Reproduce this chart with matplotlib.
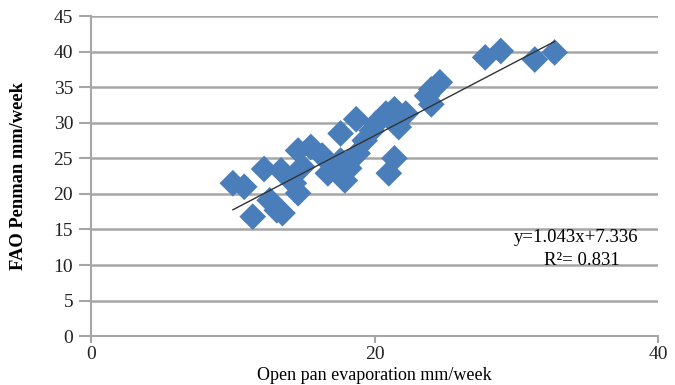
import numpy as np
import matplotlib
matplotlib.use('Agg')
import matplotlib.pyplot as plt

plt.rcParams['font.family'] = 'Liberation Serif'

# open pan evaporation (x) vs FAO Penman (y), mm/week
pan = [10.0, 10.8, 11.4, 12.2, 12.6, 13.1, 13.5, 13.4, 14.6, 14.9, 14.6, 14.3,
       15.5, 16.3, 16.7, 17.6, 17.6, 17.9, 18.2, 18.7, 18.8, 19.3, 19.8, 20.1,
       20.8, 21.0, 21.4, 21.4, 21.7, 22.2, 23.7, 24.0, 24.6, 24.0, 27.8, 28.9,
       31.3, 32.7]
fao = [21.5, 21.0, 16.8, 23.5, 19.1, 17.7, 17.3, 23.3, 26.1, 23.8, 20.1, 21.5,
       26.6, 25.4, 22.9, 24.7, 28.5, 21.9, 23.6, 30.5, 25.7, 27.5, 28.9, 29.9,
       31.3, 22.9, 25.0, 31.9, 29.4, 31.3, 33.8, 32.6, 35.7, 34.7, 39.2, 40.1,
       38.9, 39.9]
slope, intercept = 1.043, 7.336
r2 = 0.831

fig = plt.figure(figsize=(6.75, 3.85), dpi=100)
ax = fig.add_axes([0.135, 0.127, 0.840, 0.831])
fig.set_facecolor('white')

ax.scatter(pan, fao, marker='D', s=185, c='#4a7ebb', edgecolors='none', zorder=3)

xs = np.array([min(pan), max(pan)])
ax.plot(xs, slope * xs + intercept, color='#333333', lw=1.0, zorder=4)

ax.set_xlim(0, 40)
ax.set_ylim(0, 45)
ax.set_xticks([0, 20, 40])
ax.set_yticks(np.arange(0, 46, 5))
ax.yaxis.grid(True, color='#a6a6a6', lw=1.8)
ax.set_axisbelow(True)
for s in ['top', 'right']:
    ax.spines[s].set_visible(False)
for s in ['left', 'bottom']:
    ax.spines[s].set_color('#a6a6a6')
    ax.spines[s].set_linewidth(1.5)
ax.tick_params(axis='both', colors='#a6a6a6', labelcolor='#222222',
               labelsize=14, width=1.5)
ax.tick_params(axis='x', length=5, pad=2)
ax.tick_params(axis='y', length=9, pad=4)

ax.set_xlabel('Open pan evaporation mm/week', fontsize=13, labelpad=3)
ax.set_ylabel('FAO Penman mm/week', fontsize=13.3, fontweight='bold')
ax.yaxis.set_label_coords(-0.113, 0.5)

ax.text(34.2, 13.9, 'y=1.043x+7.336', fontsize=13.5, ha='center', va='center')
ax.text(34.6, 10.7, 'R\u00b2= %.3f' % r2, fontsize=13.5, ha='center', va='center')

fig.savefig('out.png', dpi=100)
